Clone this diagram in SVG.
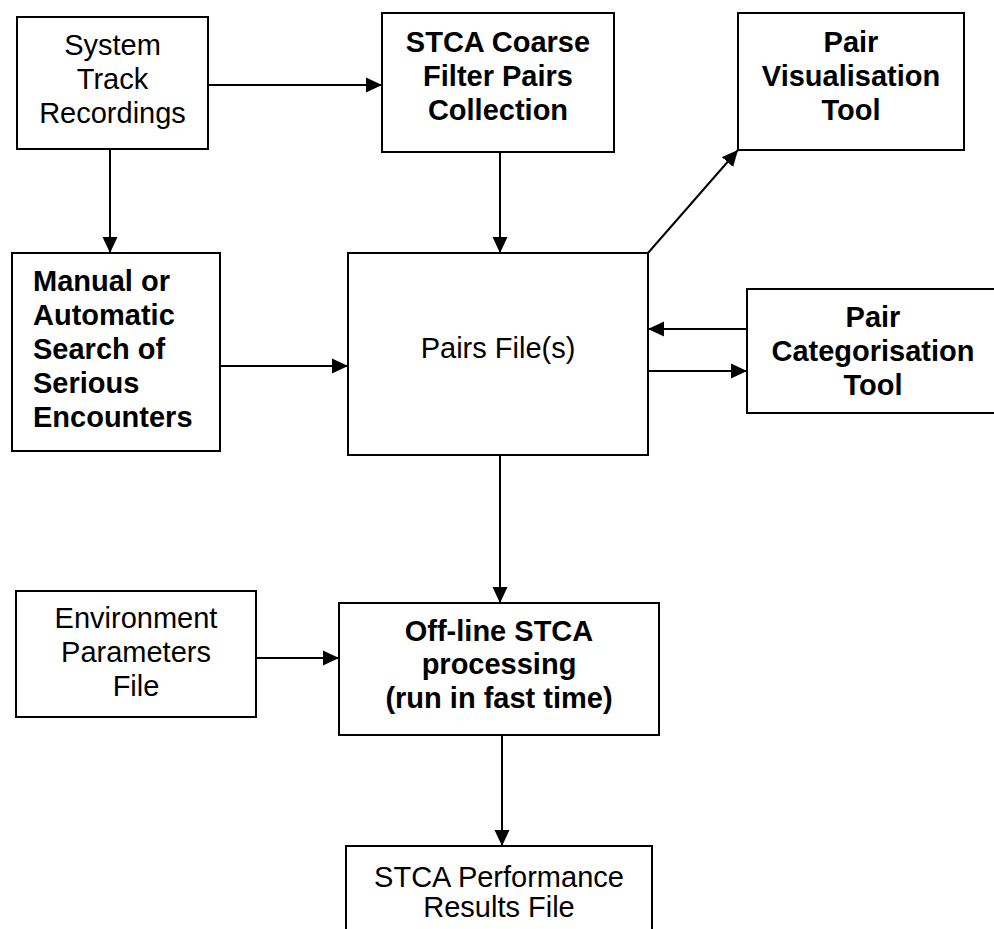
<svg xmlns="http://www.w3.org/2000/svg" width="994" height="929" viewBox="0 0 994 929">
<style>
.box{fill:#fff;stroke:#000;stroke-width:2}
.t{font-family:"Liberation Sans",Arial,sans-serif;font-size:29px;fill:#000;text-anchor:middle}
.b{font-weight:bold}
.l{text-anchor:start}
.c{stroke:#000;stroke-width:2;fill:none;marker-end:url(#ah)}
</style>
<defs>
<marker id="ah" markerUnits="userSpaceOnUse" markerWidth="16" markerHeight="16" viewBox="0 0 16 16" refX="16" refY="8" orient="auto">
<path d="M0,0.5 L16,8 L0,15.5 Z" fill="#000"/>
</marker>
</defs>
<rect width="994" height="929" fill="#fff"/>
<g id="connectors">
<line class="c" x1="208" y1="85" x2="382" y2="85"/>
<line class="c" x1="110" y1="149" x2="110" y2="253"/>
<line class="c" x1="500" y1="152" x2="500" y2="253"/>
<line class="c" x1="220" y1="366" x2="348" y2="366"/>
<line class="c" x1="648" y1="253" x2="738" y2="150"/>
<line class="c" x1="747" y1="329" x2="648" y2="329"/>
<line class="c" x1="648" y1="371" x2="747" y2="371"/>
<line class="c" x1="500" y1="455" x2="500" y2="603"/>
<line class="c" x1="256" y1="658" x2="339" y2="658"/>
<line class="c" x1="502" y1="735" x2="502" y2="846"/>
</g>
<g id="system-track">
<rect class="box" x="17" y="17" width="191" height="132"/>
<text class="t" x="112.5" y="55">System</text>
<text class="t" x="112.5" y="89">Track</text>
<text class="t" x="112.5" y="123">Recordings</text>
</g>
<g id="coarse-filter">
<rect class="box" x="382" y="13" width="232" height="139"/>
<text class="t b" x="498" y="52">STCA Coarse</text>
<text class="t b" x="498" y="86">Filter Pairs</text>
<text class="t b" x="498" y="120">Collection</text>
</g>
<g id="pair-visualisation">
<rect class="box" x="738" y="13" width="226" height="137"/>
<text class="t b" x="851" y="52">Pair</text>
<text class="t b" x="851" y="86">Visualisation</text>
<text class="t b" x="851" y="120">Tool</text>
</g>
<g id="manual-search">
<rect class="box" x="12" y="253" width="208" height="198"/>
<text class="t b l" x="33" y="291">Manual or</text>
<text class="t b l" x="33" y="325">Automatic</text>
<text class="t b l" x="33" y="359">Search of</text>
<text class="t b l" x="33" y="393">Serious</text>
<text class="t b l" x="33" y="427">Encounters</text>
</g>
<g id="pairs-file">
<rect class="box" x="348" y="253" width="300" height="202"/>
<text class="t" x="498" y="358">Pairs File(s)</text>
</g>
<g id="pair-categorisation">
<rect class="box" x="747" y="289" width="260" height="124"/>
<text class="t b" x="873" y="327">Pair</text>
<text class="t b" x="873" y="361">Categorisation</text>
<text class="t b" x="873" y="395">Tool</text>
</g>
<g id="environment">
<rect class="box" x="16" y="591" width="240" height="126"/>
<text class="t" x="136" y="628">Environment</text>
<text class="t" x="136" y="662">Parameters</text>
<text class="t" x="136" y="696">File</text>
</g>
<g id="offline-stca">
<rect class="box" x="339" y="603" width="320" height="132"/>
<text class="t b" x="499" y="641">Off-line STCA</text>
<text class="t b" x="499" y="674">processing</text>
<text class="t b" x="499" y="708">(run in fast time)</text>
</g>
<g id="performance-results">
<rect class="box" x="346" y="846" width="306" height="100"/>
<text class="t" x="499" y="887">STCA Performance</text>
<text class="t" x="499" y="917">Results File</text>
</g>
</svg>
